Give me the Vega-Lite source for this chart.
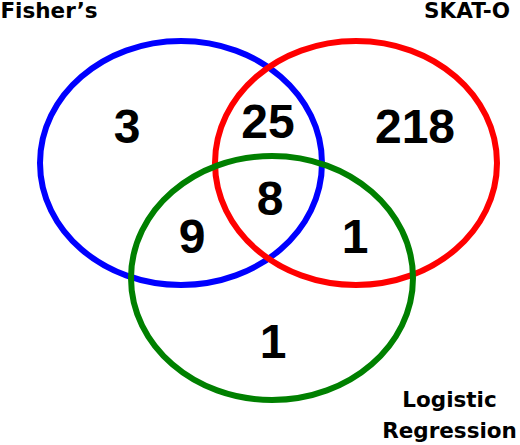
{
  "$schema": "https://vega.github.io/schema/vega-lite/v6.json",
  "width": 520,
  "height": 445,
  "autosize": {"type": "fit", "contains": "padding"},
  "padding": 0,
  "background": "white",
  "config": {"view": {"stroke": null}},
  "datasets": {
    "sets": [
      {"set": "Fisher’s", "cx": 181, "cy": 163},
      {"set": "SKAT-O", "cx": 356, "cy": 163},
      {"set": "Logistic Regression", "cx": 272, "cy": 278}
    ],
    "counts": [
      {"n": "3", "x": 127, "y": 143},
      {"n": "25", "x": 268, "y": 138},
      {"n": "218", "x": 415, "y": 143},
      {"n": "8", "x": 270, "y": 215},
      {"n": "9", "x": 192, "y": 253},
      {"n": "1", "x": 355, "y": 253},
      {"n": "1", "x": 273, "y": 358}
    ],
    "names": [
      {"label": "Fisher’s", "x": 49, "y": 18},
      {"label": "SKAT-O", "x": 467, "y": 18},
      {"label": "Logistic", "x": 449.5, "y": 407},
      {"label": "Regression", "x": 449.5, "y": 438}
    ]
  },
  "layer": [
    {
      "data": {"name": "sets"},
      "mark": {
        "type": "point",
        "filled": false,
        "opacity": 1,
        "size": 90000,
        "strokeWidth": 6,
        "shape": "M -0.94 0 A 0.94 0.8133 0 1 1 0.94 0 A 0.94 0.8133 0 1 1 -0.94 0 Z"
      },
      "encoding": {
        "x": {"field": "cx", "type": "quantitative", "scale": {"domain": [0, 520], "nice": false, "zero": false}, "axis": null},
        "y": {"field": "cy", "type": "quantitative", "scale": {"domain": [0, 445], "nice": false, "zero": false, "reverse": true}, "axis": null},
        "color": {
          "field": "set",
          "type": "nominal",
          "scale": {"domain": ["Fisher’s", "SKAT-O", "Logistic Regression"], "range": ["#0000ff", "#ff0000", "#008000"]},
          "legend": null
        }
      }
    },
    {
      "data": {"name": "counts"},
      "mark": {"type": "text", "font": "Liberation Sans", "fontWeight": "bold", "fontSize": 48, "align": "center", "baseline": "alphabetic", "color": "#000000"},
      "encoding": {
        "x": {"field": "x", "type": "quantitative", "scale": {"domain": [0, 520], "nice": false, "zero": false}, "axis": null},
        "y": {"field": "y", "type": "quantitative", "scale": {"domain": [0, 445], "nice": false, "zero": false, "reverse": true}, "axis": null},
        "text": {"field": "n", "type": "nominal"}
      }
    },
    {
      "data": {"name": "names"},
      "mark": {"type": "text", "font": "DejaVu Sans", "fontWeight": "bold", "fontSize": 21.5, "align": "center", "baseline": "alphabetic", "color": "#000000"},
      "encoding": {
        "x": {"field": "x", "type": "quantitative", "scale": {"domain": [0, 520], "nice": false, "zero": false}, "axis": null},
        "y": {"field": "y", "type": "quantitative", "scale": {"domain": [0, 445], "nice": false, "zero": false, "reverse": true}, "axis": null},
        "text": {"field": "label", "type": "nominal"}
      }
    }
  ]
}
